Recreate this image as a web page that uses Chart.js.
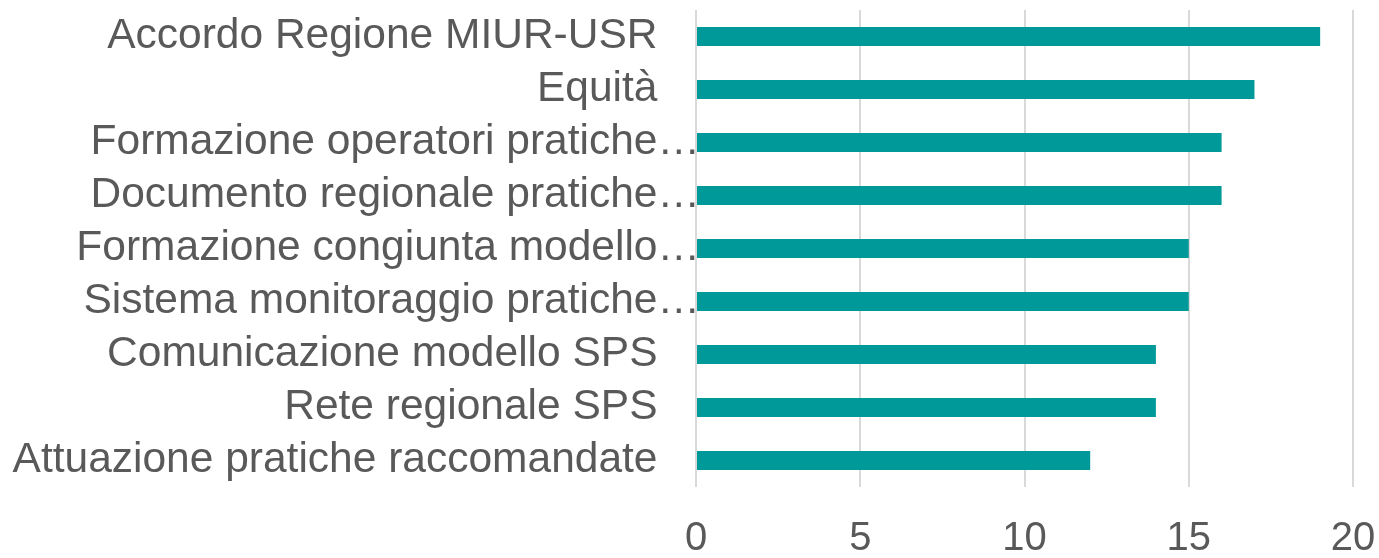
<!DOCTYPE html>
<html>
<head>
<meta charset="utf-8">
<script src="https://cdn.jsdelivr.net/npm/chart.js@4/dist/chart.umd.min.js"></script>
<style>
  html, body { margin: 0; padding: 0; background: #fff; }
  #wrap { width: 1379px; height: 558px; }
</style>
</head>
<body>
<div id="wrap"><canvas id="chart"></canvas></div>
<script>
const categories = [
    "Accordo Regione MIUR-USR",
    "Equità",
    "Formazione operatori pratiche…",
    "Documento regionale pratiche…",
    "Formazione congiunta modello…",
    "Sistema monitoraggio pratiche…",
    "Comunicazione modello SPS",
    "Rete regionale SPS",
    "Attuazione pratiche raccomandate"
];
const values = [19, 17, 16, 16, 15, 15, 14, 14, 12];
const xTicks = [0, 5, 10, 15, 20];

const textColor = "#595959";

new Chart(document.getElementById("chart"), {
    type: "bar",
    data: {
        labels: categories,
        datasets: [{
            data: values,
            backgroundColor: "#009999",
            categoryPercentage: 1,
            barPercentage: 0.36
        }]
    },
    options: {
        indexAxis: "y",
        responsive: true,
        maintainAspectRatio: false,
        animation: false,
        layout: { padding: { top: 10, right: 26, bottom: 0, left: 0 } },
        plugins: { legend: { display: false }, tooltip: { enabled: false } },
        scales: {
            x: {
                min: 0,
                max: 20,
                afterBuildTicks: (scale) => { scale.ticks = xTicks.map(v => ({ value: v })) },
                afterFit: (scale) => {
                    scale.height = 71
                    scale.paddingLeft = 0
                    scale.paddingRight = 0
                },
                grid: { color: "#d9d9d9", lineWidth: 2, drawTicks: false },
                border: { display: false },
                ticks: {
                    padding: 28,
                    color: textColor,
                    font: { family: "Liberation Sans", size: 40 }
                }
            },
            y: {
                afterFit: (scale) => {
                    scale.width = 696
                    scale.paddingTop = 0
                    scale.paddingBottom = 0
                },
                grid: { display: false },
                border: { display: false },
                ticks: {
                    padding: -12,
                    color: textColor,
                    autoSkip: false,
                    font: { family: "Liberation Sans", size: 42.5 },
                    // full labels sit a little away from the axis, cut ones run up to it
                    callback: function (value) {
                        const label = this.getLabelForValue(value)
                        return label.endsWith("…") ? label : label + "\u2002\u2002"
                    }
                }
            }
        }
    }
});
</script>
</body>
</html>
